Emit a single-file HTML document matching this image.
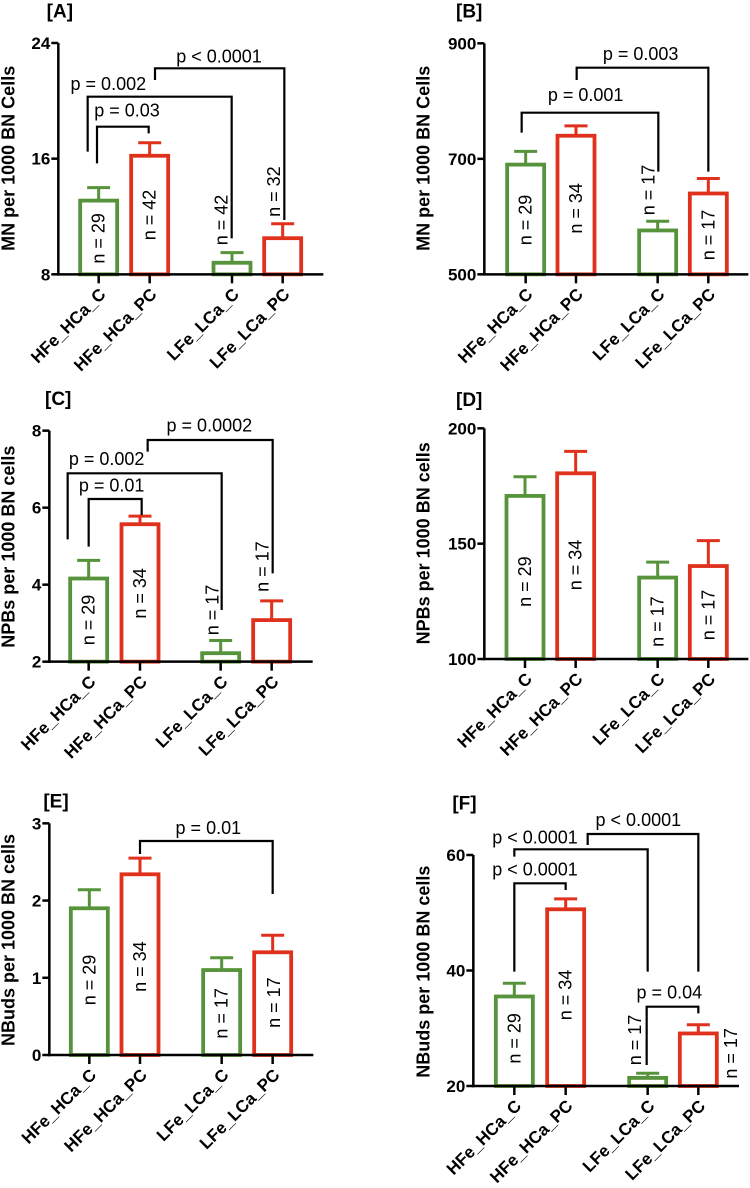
<!DOCTYPE html>
<html><head><meta charset="utf-8"><style>
html,body{margin:0;padding:0;background:#fff;}
svg{display:block;font-family:"Liberation Sans",Arial,sans-serif;}
</style></head><body>
<svg id="fig" width="750" height="1188" viewBox="0 0 750 1188" xmlns="http://www.w3.org/2000/svg"></svg>
<script>
// ---- data ----
const categories = ["HFe_HCa_C","HFe_HCa_PC","LFe_LCa_C","LFe_LCa_PC"];
const valuesA = [13.1, 16.2, 8.8, 10.5];
const errorsA = [14.0, 17.1, 9.5, 11.5];
const nA = ["n = 29","n = 42","n = 42","n = 32"];
const ticksA = [8, 16, 24];
const valuesB = [690, 740, 576, 640];
const errorsB = [713, 757, 592, 666];
const nB = ["n = 29","n = 34","n = 17","n = 17"];
const ticksB = [500, 700, 900];
const valuesC = [4.16, 5.57, 2.22, 3.08];
const errorsC = [4.63, 5.78, 2.55, 3.58];
const nC = ["n = 29","n = 34","n = 17","n = 17"];
const ticksC = [2, 4, 6, 8];
const valuesD = [170.7, 180.5, 135.3, 140.3];
const errorsD = [179, 190, 142, 151.3];
const nD = ["n = 29","n = 34","n = 17","n = 17"];
const ticksD = [100, 150, 200];
const valuesE = [1.90, 2.34, 1.10, 1.33];
const errorsE = [2.14, 2.55, 1.26, 1.55];
const nE = ["n = 29","n = 34","n = 17","n = 17"];
const ticksE = [0, 1, 2, 3];
const valuesF = [35.5, 50.6, 21.4, 29.1];
const errorsF = [37.8, 52.4, 22.2, 30.6];
const nF = ["n = 29","n = 34","n = 17","n = 17"];
const ticksF = [20, 40, 60];

const GREEN = "#56933a", RED = "#e0311d";
const colors = [GREEN, RED, GREEN, RED];
const panels = [
 {id:"a", letter:"[A]", ox:0, oy:0, ax:175, yT:129, yB:823, xE:970, cx:[296,449,696,848], ymin:8, ymax:24,
  vals:valuesA, errs:errorsA, ns:nA, ticks:ticksA, title:"MN per 1000 BN Cells", tx:25, ty:475, lx:140, ly:52,
  npos:[[296,715],[449,645],[665,660],[822,575]],
  br:[[291,490,446,400,380,"p = 0.03",381,350],[263,455,695,715,290,"p = 0.002",325,270],[465,240,853,660,205,"p < 0.0001",657,188]]},
 {id:"b", letter:"[B]", ox:375, oy:0, ax:328, yT:130, yB:823, xE:1120, cx:[452,603,848,1000], ymin:500, ymax:900,
  vals:valuesB, errs:errorsB, ns:nB, ticks:ticksB, title:"MN per 1000 BN Cells", tx:145, ty:475, lx:243, ly:52,
  npos:[[452,660],[603,625],[820,570],[1000,705]],
  br:[[440,398,850,515,338,"p = 0.001",632,303],[605,240,1000,515,203,"p = 0.003",797,180]]},
 {id:"c", letter:"[C]", ox:0, oy:380, ax:148, yT:152, yB:845, xE:938, cx:[266,420,662,815], ymin:2, ymax:8,
  vals:valuesC, errs:errorsC, ns:nC, ticks:ticksC, title:"NPBs per 1000 BN cells", tx:25, ty:500, lx:135, ly:75,
  npos:[[266,720],[420,640],[637,690],[787,560]],
  br:[[266,500,425,405,357,"p = 0.01",335,335],[203,478,665,690,280,"p = 0.002",320,255],[443,215,818,580,180,"p = 0.0002",628,155]]},
 {id:"d", letter:"[D]", ox:375, oy:380, ax:328, yT:145, yB:837, xE:1120, cx:[450,602,848,1000], ymin:100, ymax:200,
  vals:valuesD, errs:errorsD, ns:nD, ticks:ticksD, title:"NPBs per 1000 BN cells", tx:145, ty:490, lx:243, ly:78,
  npos:[[450,605],[602,555],[848,725],[1000,705]], br:[]},
 {id:"e", letter:"[E]", ox:0, oy:780, ax:148, yT:130, yB:825, xE:940, cx:[268,420,665,818], ymin:0, ymax:3,
  vals:valuesE, errs:errorsE, ns:nE, ticks:ticksE, title:"NBuds per 1000 BN cells", tx:25, ty:480, lx:130, ly:82,
  npos:[[268,600],[420,560],[665,700],[822,668]],
  br:[[420,222,818,342,183,"p = 0.01",625,162]]},
 {id:"f", letter:"[F]", ox:375, oy:780, ax:295, yT:225, yB:918, xE:1092, cx:[418,572,818,970], ymin:20, ymax:60,
  vals:valuesF, errs:errorsF, ns:nF, ticks:ticksF, title:"NBuds per 1000 BN cells", tx:145, ty:575, lx:232, ly:88,
  npos:[[418,775],[572,645],[780,780],[1068,820]],
  br:[[418,575,572,330,310,"p < 0.0001",480,287],[418,230,818,575,208,"p < 0.0001",480,190],[638,195,970,575,162,"p < 0.0001",790,138],[815,855,970,700,680,"p = 0.04",883,655]]}
];
const NS = "http://www.w3.org/2000/svg";
const svg = document.getElementById("fig");
function mk(tag, attrs, parent){ const e=document.createElementNS(NS,tag); for(const k in attrs) e.setAttribute(k,attrs[k]); (parent||svg).appendChild(e); return e; }

panels.forEach(p=>{
  const X = z=>p.ox + z/3, Y = z=>p.oy + z/3;
  const axX = X(p.ax), top = Y(p.yT), bot = Y(p.yB);
  const yScale = v => bot - (v - p.ymin)/(p.ymax - p.ymin)*(bot-top);
  const g = mk("g",{});
  
  
  const lt = mk("text",{x:X(p.lx), y:Y(p.ly), "font-size":19, "font-weight":"bold"}, g);
  lt.textContent = p.letter;
  
  
  const tt = mk("text",{x:0,y:0,"font-size":18,"font-weight":"bold","text-anchor":"middle",transform:`translate(${X(p.tx)+6},${Y(p.ty)}) rotate(-90)`}, g);
  tt.textContent = p.title;
  
  
  p.vals.forEach((v,i)=>{
    const cx = X(p.cx[i]), w = 37, yv = yScale(v), ye = yScale(p.errs[i]);
    const el = mk("line",{x1:cx,x2:cx,y1:yv,y2:ye,stroke:colors[i],"stroke-width":3}, g);
    
    
    const cap = mk("line",{x1:cx-11.5,x2:cx+11.5,y1:ye,y2:ye,stroke:colors[i],"stroke-width":3}, g);
    
    
    const r = mk("rect",{x:cx-w/2,y:yv,width:w,height:bot-yv,fill:"#fff",stroke:colors[i],"stroke-width":3.8}, g);
    
    
    const nt = mk("text",{x:0,y:0,"font-size":18,"text-anchor":"middle","dominant-baseline":"central",transform:`translate(${X(p.npos[i][0])},${Y(p.npos[i][1])}) rotate(-90)`}, g);
    nt.textContent = p.ns[i];
    
    
    const tk = mk("line",{x1:cx,x2:cx,y1:bot,y2:bot+9,stroke:"#000","stroke-width":2.5}, g);
    
    
    const cl = mk("text",{x:0,y:0,"font-size":17,"font-weight":"bold","text-anchor":"end",transform:`translate(${cx+8},${bot+21}) rotate(-45)`}, g);
    cl.textContent = categories[i];
    
    
  });
  const ya = mk("line",{x1:axX,x2:axX,y1:top,y2:bot+1.2,stroke:"#000","stroke-width":2.5}, g);
  
  
  const xa = mk("line",{x1:axX-1.2,x2:X(p.xE),y1:bot,y2:bot,stroke:"#000","stroke-width":2.5}, g);
  
  
  p.ticks.forEach(t=>{
    const y = yScale(t);
    const tl = mk("line",{x1:axX-7,x2:axX,y1:y,y2:y,stroke:"#000","stroke-width":2.5}, g);
    
    
    const tx = mk("text",{x:axX-8,y:y+6,"font-size":17,"font-weight":"bold","text-anchor":"end"}, g);
    tx.textContent = t;
    
    
  });
  p.br.forEach(b=>{
    const pl = mk("polyline",{points:`${X(b[0])},${Y(b[1])} ${X(b[0])},${Y(b[4])} ${X(b[2])},${Y(b[4])} ${X(b[2])},${Y(b[3])}`,fill:"none",stroke:"#000","stroke-width":2.2}, g);
    
    
    const bt = mk("text",{x:X(b[6]),y:Y(b[7]),"font-size":18,"text-anchor":"middle"}, g);
    bt.textContent = b[5];
    
    
  });
});
</script>
</body></html>
